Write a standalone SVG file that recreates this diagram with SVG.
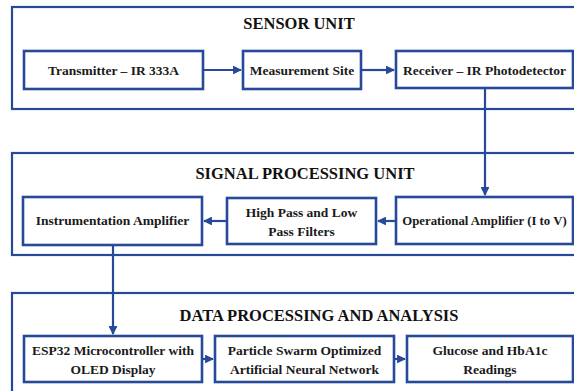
<svg xmlns="http://www.w3.org/2000/svg" width="574" height="391" viewBox="0 0 574 391">
<defs>
<marker id="ah" viewBox="0 0 10 10" refX="9" refY="5" markerWidth="4" markerHeight="4" orient="auto" markerUnits="strokeWidth">
<path d="M0,0 L10,5 L0,10 Z" fill="#27499a"/>
</marker>
<style>
.outer{fill:none;stroke:#27499a;stroke-width:2.2}
.box{fill:#fff;stroke:#27499a;stroke-width:2.6}
.t{font-weight:bold;font-size:13.5px;fill:#1a1a1a;text-anchor:middle}
.h{font-weight:bold;font-size:16.5px;fill:#111;text-anchor:middle}
.c{fill:none;stroke:#27499a;stroke-width:2.2;marker-end:url(#ah)}
</style>
</defs>
<rect width="574" height="391" fill="#fff"/>
<g font-family="'Liberation Serif', 'DejaVu Serif', serif">
<g id="sensor-unit">
<rect class="outer" x="12" y="7" width="570" height="102"/>
<text class="h" x="299" y="29">SENSOR UNIT</text>
</g>
<g id="signal-processing-unit">
<rect class="outer" x="12" y="153" width="570" height="102"/>
<text class="h" x="305" y="179">SIGNAL PROCESSING UNIT</text>
</g>
<g id="data-processing">
<rect class="outer" x="12" y="293" width="570" height="110"/>
<text class="h" x="319" y="321">DATA PROCESSING AND ANALYSIS</text>
</g>
<g id="transmitter">
<rect class="box" x="24" y="51" width="179" height="38"/>
<text class="t" x="113.5" y="74.5">Transmitter – IR 333A</text>
</g>
<g id="measurement">
<rect class="box" x="243" y="51" width="118" height="38"/>
<text class="t" x="302" y="74.5">Measurement Site</text>
</g>
<g id="receiver">
<rect class="box" x="396" y="51" width="177" height="37"/>
<text class="t" x="484.5" y="74.5">Receiver – IR Photodetector</text>
</g>
<g id="instr-amp">
<rect class="box" x="23" y="197" width="179" height="48"/>
<text class="t" x="112.5" y="225">Instrumentation Amplifier</text>
</g>
<g id="filters">
<rect class="box" x="227" y="198" width="149" height="46"/>
<text class="t" x="301.5" y="217">High Pass and Low</text>
<text class="t" x="301.5" y="236">Pass Filters</text>
</g>
<g id="op-amp">
<rect class="box" x="396" y="197" width="177" height="47"/>
<text class="t" x="484.5" y="225" style="font-size:12.8px">Operational Amplifier (I to V)</text>
</g>
<g id="esp32">
<rect class="box" x="24" y="336" width="178" height="46"/>
<text class="t" x="113" y="355">ESP32 Microcontroller with</text>
<text class="t" x="113" y="374">OLED Display</text>
</g>
<g id="pso-ann">
<rect class="box" x="215" y="336" width="179" height="46"/>
<text class="t" x="304.5" y="355">Particle Swarm Optimized</text>
<text class="t" x="304.5" y="374">Artificial Neural Network</text>
</g>
<g id="glucose">
<rect class="box" x="407" y="336" width="166" height="46"/>
<text class="t" x="490" y="355">Glucose and HbA1c</text>
<text class="t" x="490" y="374">Readings</text>
</g>
</g>
<g id="connectors">
<line class="c" x1="204" y1="70" x2="241" y2="70"/>
<line class="c" x1="362" y1="70" x2="394" y2="70"/>
<line class="c" x1="485" y1="89" x2="485" y2="195"/>
<line class="c" x1="395" y1="221" x2="378" y2="221"/>
<line class="c" x1="226" y1="221" x2="204" y2="221"/>
<line class="c" x1="113" y1="246" x2="113" y2="334"/>
<line class="c" x1="203" y1="359" x2="213" y2="359"/>
<line class="c" x1="395" y1="359" x2="405" y2="359"/>
</g>
</svg>
